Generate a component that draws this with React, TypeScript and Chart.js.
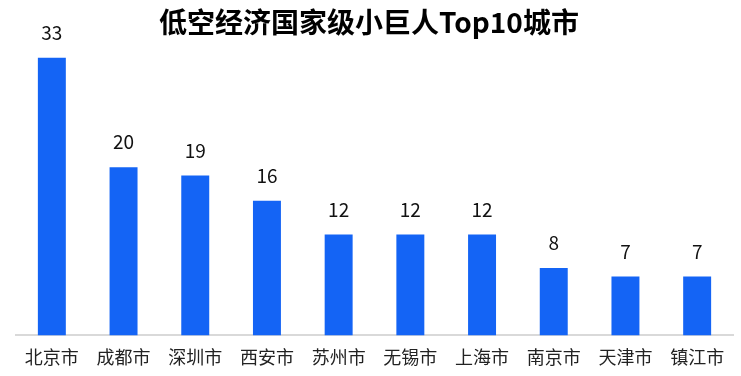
import React, { useEffect, useRef } from "react";
import { Chart, registerables } from "chart.js";

Chart.register(...registerables);

const TITLE = "低空经济国家级小巨人Top10城市";
const CITIES = ["北京市", "成都市", "深圳市", "西安市", "苏州市", "无锡市", "上海市", "南京市", "天津市", "镇江市"];
const COUNTS = [33, 20, 19, 16, 12, 12, 12, 8, 7, 7];
const BAR_COLOR = "#1464F5";
const FONT = "'Noto Sans CJK SC', 'Noto Sans', sans-serif";

const labelPlugin = {
  id: "valueLabels",
  afterDatasetsDraw(chart: any) {
    const ctx = chart.ctx;
    const meta = chart.getDatasetMeta(0);
    ctx.save();
    ctx.font = `19px ${FONT}`;
    ctx.fillStyle = "#111111";
    ctx.textAlign = "center";
    ctx.textBaseline = "middle";
    meta.data.forEach((bar: any, i: number) => {
      ctx.fillText(String(COUNTS[i]), bar.x, bar.y - 25);
    });
    ctx.restore();
  },
};

const titlePlugin = {
  id: "customTitle",
  afterDraw(chart: any) {
    const ctx = chart.ctx;
    ctx.save();
    ctx.font = `bold 28px ${FONT}`;
    ctx.fillStyle = "#000000";
    ctx.textAlign = "center";
    ctx.textBaseline = "middle";
    ctx.fillText(TITLE, 369, 22);
    ctx.restore();
  },
};

export default function App() {
  const ref = useRef<HTMLCanvasElement>(null);
  useEffect(() => {
    if (!ref.current) return;
    const chart = new Chart(ref.current, {
      type: "bar",
      data: {
        labels: CITIES,
        datasets: [
          {
            data: COUNTS,
            backgroundColor: BAR_COLOR,
            barPercentage: 0.39,
            categoryPercentage: 1,
          },
        ],
      },
      options: {
        animation: false,
        responsive: false,
        maintainAspectRatio: false,
        layout: { padding: { left: 16, right: 8, top: 41, bottom: -3 } },
        plugins: { legend: { display: false }, tooltip: { enabled: false }, title: { display: false } },
        scales: {
          x: {
            grid: { display: false, drawTicks: false },
            border: { display: true, color: "#D9D9D9", width: 2 },
            ticks: {
              color: "#222222",
              font: { family: FONT, size: 18 },
              padding: 11,
              maxRotation: 0,
              autoSkip: false,
            },
          },
          y: {
            display: false,
            min: 0,
            max: 35,
          },
        },
      },
      plugins: [labelPlugin, titlePlugin],
    });
    return () => chart.destroy();
  }, []);
  return (
    <div style={{ position: "fixed", left: 0, top: 0, width: 741, height: 376, background: "#fff" }}>
      <canvas ref={ref} width={741} height={376} />
    </div>
  );
}
